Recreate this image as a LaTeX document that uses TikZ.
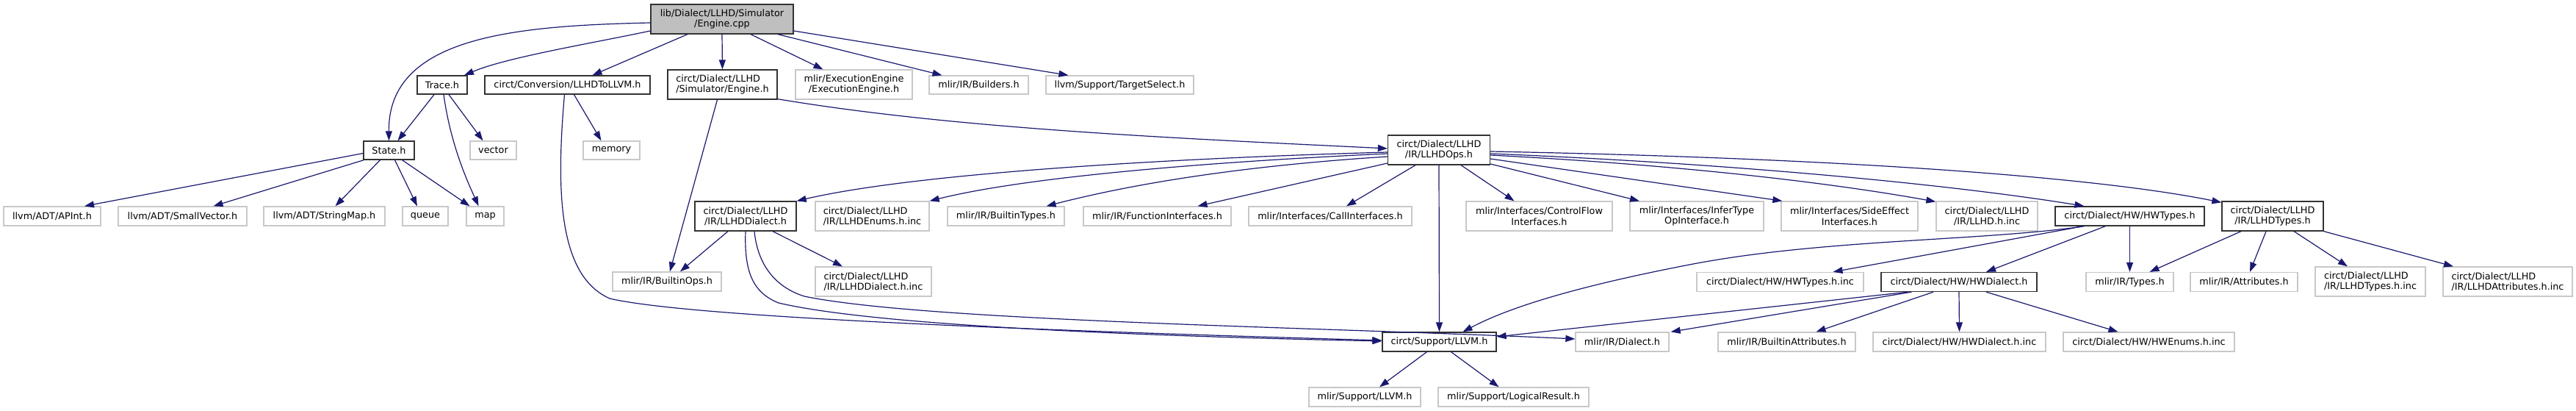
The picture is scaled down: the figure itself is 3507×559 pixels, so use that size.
\documentclass[tikz,border=0pt]{standalone}
\usepackage{fontspec}
\setmainfont{DejaVu Sans}
\usetikzlibrary{arrows.meta,calc}
\definecolor{edgec}{HTML}{191970}
\definecolor{gborder}{HTML}{C8C8C8}
\definecolor{dborder}{HTML}{333333}
\definecolor{srcfill}{HTML}{BFBFBF}
\begin{document}
\begin{tikzpicture}[x=1pt,y=-1pt,
  box/.style={draw, line width=1.3pt, inner sep=0pt, font=\fontsize{12.8}{14.5}\selectfont, align=center},
  doc/.style={box, draw=dborder},
  ext/.style={box, draw=gborder},
  src/.style={box, draw=dborder, fill=srcfill},
  lft/.style={align=left},
  conn/.style={draw=edgec, line width=1.2pt, -{Triangle[length=13pt,width=9pt]}}]
\useasboundingbox (0,0) rectangle (3507,559);
\fill[white] (0,0) rectangle (3507,559);
% row 0
\node[src, minimum width=194pt, minimum height=40pt] (eng) at (983,26) {lib/Dialect/LLHD/Simulator\\/Engine.cpp};
% row 1
\node[doc, minimum width=68pt, minimum height=25pt] (trace) at (602,115.5) {Trace.h};
\node[doc, minimum width=225pt, minimum height=25pt] (l2l) at (772.5,115.5) {circt/Conversion/LLHDToLLVM.h};
\node[doc, lft, minimum width=149pt, minimum height=40pt] (sime) at (983.5,115) {circt/Dialect/LLHD\\/Simulator/Engine.h};
\node[ext, minimum width=159pt, minimum height=40pt] (exe) at (1162.5,115) {mlir/ExecutionEngine\\/ExecutionEngine.h};
\node[ext, minimum width=135pt, minimum height=25pt] (bld) at (1332.5,115.5) {mlir/IR/Builders.h};
\node[ext, minimum width=201pt, minimum height=25pt] (tgt) at (1524.5,115.5) {llvm/Support/TargetSelect.h};
% row 2
\node[doc, minimum width=69pt, minimum height=25pt] (state) at (529.5,204.5) {State.h};
\node[ext, minimum width=63pt, minimum height=25pt] (vec) at (671.5,204.5) {vector};
\node[ext, minimum width=77pt, minimum height=25pt] (mem) at (832.5,204.5) {memory};
\node[doc, minimum width=139pt, minimum height=40pt] (ops) at (1959,204) {circt/Dialect/LLHD\\/IR/LLHDOps.h};
% row 3
\node[ext, minimum width=132pt, minimum height=26pt] (apint) at (71,294) {llvm/ADT/APInt.h};
\node[ext, minimum width=175pt, minimum height=26pt] (smallv) at (248.5,294) {llvm/ADT/SmallVector.h};
\node[ext, minimum width=165pt, minimum height=26pt] (strmap) at (441.5,294) {llvm/ADT/StringMap.h};
\node[ext, minimum width=62pt, minimum height=26pt] (queue) at (579,294) {queue};
\node[ext, minimum width=51pt, minimum height=26pt] (map) at (660.5,294) {map};
\node[doc, minimum width=138pt, minimum height=40pt] (dial) at (1015,294) {circt/Dialect/LLHD\\/IR/LLHDDialect.h};
\node[ext, lft, minimum width=155pt, minimum height=40pt] (enums) at (1187.5,294) {circt/Dialect/LLHD\\/IR/LLHDEnums.h.inc};
\node[ext, minimum width=159pt, minimum height=26pt] (btypes) at (1369.5,294) {mlir/IR/BuiltinTypes.h};
\node[ext, minimum width=201pt, minimum height=26pt] (fint) at (1575.5,294) {mlir/IR/FunctionInterfaces.h};
\node[ext, minimum width=222pt, minimum height=26pt] (cint) at (1811,294) {mlir/Interfaces/CallInterfaces.h};
\node[ext, minimum width=199pt, minimum height=40pt] (cfi) at (2095.5,294) {mlir/Interfaces/ControlFlow\\Interfaces.h};
\node[ext, minimum width=182pt, minimum height=40pt] (infer) at (2310,294) {mlir/Interfaces/InferType\\OpInterface.h};
\node[ext, minimum width=186pt, minimum height=40pt] (side) at (2518,294) {mlir/Interfaces/SideEffect\\Interfaces.h};
\node[ext, minimum width=138pt, minimum height=40pt] (llhdinc) at (2705,294) {circt/Dialect/LLHD\\/IR/LLHD.h.inc};
\node[doc, minimum width=203pt, minimum height=26pt] (hwtypes) at (2899.5,294) {circt/Dialect/HW/HWTypes.h};
\node[doc, minimum width=138pt, minimum height=40pt] (ltypes) at (3094,294) {circt/Dialect/LLHD\\/IR/LLHDTypes.h};
% row 4
\node[ext, minimum width=148pt, minimum height=26pt] (bops) at (908,383) {mlir/IR/BuiltinOps.h};
\node[ext, lft, minimum width=158pt, minimum height=40pt] (dinc) at (1189,383) {circt/Dialect/LLHD\\/IR/LLHDDialect.h.inc};
\node[ext, minimum width=227pt, minimum height=26pt] (hwtinc) at (2423.5,383.5) {circt/Dialect/HW/HWTypes.h.inc};
\node[doc, minimum width=212pt, minimum height=26pt] (hwd) at (2667,383.5) {circt/Dialect/HW/HWDialect.h};
\node[ext, minimum width=119pt, minimum height=26pt] (types) at (2899.5,383.5) {mlir/IR/Types.h};
\node[ext, minimum width=146pt, minimum height=26pt] (attrs) at (3055,383.5) {mlir/IR/Attributes.h};
\node[ext, lft, minimum width=150pt, minimum height=40pt] (ltinc) at (3227,383) {circt/Dialect/LLHD\\/IR/LLHDTypes.h.inc};
\node[ext, lft, minimum width=176pt, minimum height=40pt] (lainc) at (3414,383) {circt/Dialect/LLHD\\/IR/LLHDAttributes.h.inc};
% row 5
\node[doc, minimum width=155pt, minimum height=26pt] (sllvm) at (1959.5,465) {circt/Support/LLVM.h};
\node[ext, minimum width=127pt, minimum height=26pt] (dia) at (2208.5,465) {mlir/IR/Dialect.h};
\node[ext, minimum width=187pt, minimum height=26pt] (battr) at (2432.5,465) {mlir/IR/BuiltinAttributes.h};
\node[ext, minimum width=235pt, minimum height=26pt] (hwdinc) at (2667.5,465) {circt/Dialect/HW/HWDialect.h.inc};
\node[ext, minimum width=233pt, minimum height=26pt] (hwenum) at (2925.5,465) {circt/Dialect/HW/HWEnums.h.inc};
% row 6
\node[ext, minimum width=152pt, minimum height=26pt] (mllvm) at (1858,540) {mlir/Support/LLVM.h};
\node[ext, minimum width=205pt, minimum height=26pt] (lres) at (2060.5,540) {mlir/Support/LogicalResult.h};

% Engine.cpp
\draw[conn] ($(eng.west)+(0,5)$) .. controls (700,35) and (528,50) .. (state.north);
\draw[conn] ($(eng.west)+(0,16)$) .. controls (800,60) and (690,78) .. ($(trace.north)+(30,0)$);
\draw[conn] ($(eng.south)+(-47,0)$) -- ($(l2l.north)+(34,0)$);
\draw[conn] (eng.south) -- (sime.north);
\draw[conn] ($(eng.south)+(39,0)$) -- ($(exe.north)+(-42,0)$);
\draw[conn] ($(eng.south)+(76,0)$) -- ($(bld.north)+(-50,0)$);
\draw[conn] ($(eng.east)+(0,16)$) -- ($(tgt.north)+(-70,0)$);
% Trace.h
\draw[conn] ($(trace.south)+(-11,0)$) -- ($(state.north)+(12,0)$);
\draw[conn] ($(trace.south)+(2,0)$) .. controls (614,200) and (638,250) .. ($(map.north)+(-9,0)$);
\draw[conn] ($(trace.south)+(9,0)$) -- ($(vec.north)+(-14,0)$);
% State.h
\draw[conn] ($(state.west)+(0,4)$) -- ($(apint.north)+(44,0)$);
\draw[conn] ($(state.south west)+(1,0)$) -- ($(smallv.north)+(42,0)$);
\draw[conn] ($(state.south)+(-12,0)$) -- ($(strmap.north)+(15,0)$);
\draw[conn] ($(state.south)+(8,0)$) -- ($(queue.north)+(-11,0)$);
\draw[conn] ($(state.south)+(18,0)$) -- ($(map.north)+(-21,0)$);
% LLHDToLLVM.h
\draw[conn] ($(l2l.south)+(9,0)$) -- ($(mem.north)+(-14,0)$);
\draw[conn] ($(l2l.south)+(-4,0)$) .. controls (757,260) and (760,375) .. (830,406) .. controls (950,434) and (1500,452) .. ($(sllvm.west)+(0,-2)$);
% Simulator/Engine.h
\draw[conn] ($(sime.south)+(-7,0)$) -- ($(bops.north)+(4,0)$);
\draw[conn] ($(sime.south east)+(0,-1)$) .. controls (1300,175) and (1600,188) .. ($(ops.west)+(0,-2)$);
% LLHDOps.h
\draw[conn] ($(ops.west)+(0,3)$) .. controls (1600,215) and (1250,235) .. (dial.north east);
\draw[conn] ($(ops.west)+(0,5)$) .. controls (1650,220) and (1400,240) .. (enums.north east);
\draw[conn] ($(ops.west)+(0,9)$) .. controls (1700,225) and (1550,248) .. ($(btypes.north)+(55,0)$);
\draw[conn] ($(ops.west)+(0,18)$) -- ($(fint.north)+(55,0)$);
\draw[conn] ($(ops.south)+(-32,0)$) -- ($(cint.north)+(22,0)$);
\draw[conn] (ops.south) -- (sllvm.north);
\draw[conn] ($(ops.south)+(30,0)$) -- ($(cfi.north)+(-34,0)$);
\draw[conn] ($(ops.east)+(0,19)$) -- ($(infer.north)+(-78,0)$);
\draw[conn] ($(ops.east)+(0,12)$) -- ($(side.north west)+(2,0)$);
\draw[conn] ($(ops.east)+(0,7)$) .. controls (2300,225) and (2500,250) .. ($(llhdinc.north west)+(0,1)$);
\draw[conn] ($(ops.east)+(0,5)$) .. controls (2350,222) and (2650,250) .. ($(hwtypes.north)+(-62,0)$);
\draw[conn] ($(ops.east)+(0,2)$) .. controls (2500,215) and (2850,240) .. ($(ltypes.north west)+(0,2)$);
% LLHDDialect.h
\draw[conn] ($(dial.south)+(-24,0)$) -- ($(bops.north)+(18,0)$);
\draw[conn] ($(dial.south)+(37,0)$) -- ($(dinc.north)+(-42,0)$);
\draw[conn] (dial.south) .. controls (1013,370) and (1025,398) .. (1060,412) .. controls (1200,445) and (1600,458) .. ($(sllvm.west)+(0,-1)$);
\draw[conn] ($(dial.south)+(12,0)$) .. controls (1032,365) and (1060,392) .. (1095,403) .. controls (1260,437) and (1800,445) .. ($(dia.west)+(0,-4)$);
% HWTypes.h
\draw[conn] ($(hwtypes.south west)+(39,0)$) -- ($(hwtinc.north)+(72,0)$);
\draw[conn] ($(hwtypes.south west)+(40,0)$) .. controls (2700,328) and (2480,325) .. (2300,360) .. controls (2160,387) and (2060,415) .. ($(sllvm.north)+(32,0)$);
\draw[conn] ($(hwtypes.south west)+(69,0)$) -- ($(hwd.north)+(37,0)$);
\draw[conn] (hwtypes.south) -- (types.north);
% HWDialect.h
\draw[conn] ($(hwd.south west)+(37,0)$) -- ($(sllvm.east)+(0,-7)$);
\draw[conn] ($(hwd.south west)+(42,0)$) -- ($(dia.north east)+(2,0)$);
\draw[conn] ($(hwd.south)+(-35,0)$) -- ($(battr.north)+(40,0)$);
\draw[conn] (hwd.south) -- (hwdinc.north);
\draw[conn] ($(hwd.south)+(37,0)$) -- ($(hwenum.north)+(-42,0)$);
% LLHDTypes.h
\draw[conn] ($(ltypes.south)+(-43,0)$) -- ($(types.north)+(27,0)$);
\draw[conn] ($(ltypes.south)+(-9,0)$) -- ($(attrs.north)+(8,0)$);
\draw[conn] ($(ltypes.south)+(29,0)$) -- ($(ltinc.north)+(-31,0)$);
\draw[conn] (ltypes.south east) -- ($(lainc.north)+(-74,0)$);
% circt/Support/LLVM.h
\draw[conn] ($(sllvm.south)+(-17,0)$) -- ($(mllvm.north)+(20,0)$);
\draw[conn] ($(sllvm.south)+(16,0)$) -- ($(lres.north)+(-20,0)$);
\end{tikzpicture}
\end{document}
